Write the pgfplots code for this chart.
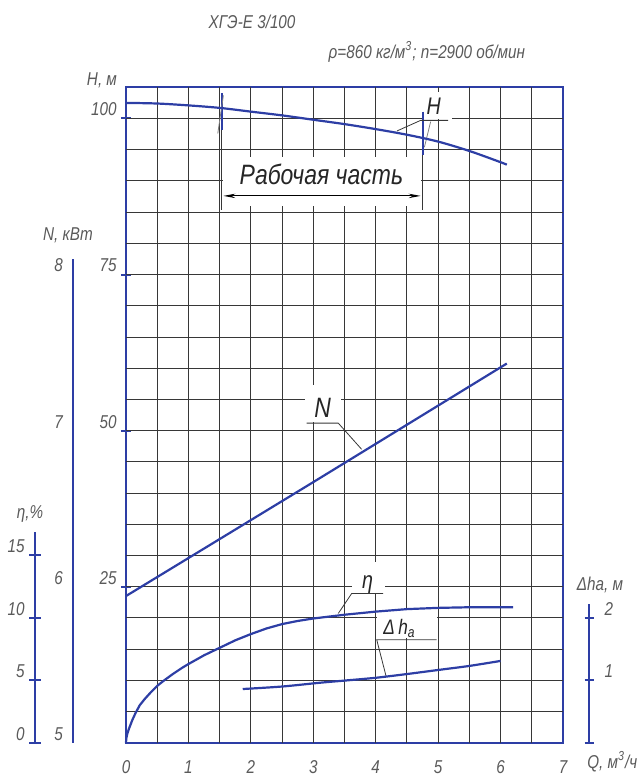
\documentclass[border=0pt]{standalone}
\usepackage{fontspec}
\usepackage{pgfplots}
\pgfplotsset{compat=1.18}
\usetikzlibrary{arrows.meta}
\newfontfamily\gost{Liberation Sans}[FakeStretch=0.82]
\definecolor{myblue}{RGB}{45,62,165}
\definecolor{txt}{RGB}{90,90,90}
\definecolor{grd}{RGB}{55,55,55}
\newcommand\sm{\gost\itshape\fontsize{9.3}{10}\selectfont}
\newcommand\md{\gost\itshape\fontsize{12}{13}\selectfont}
\newcommand\mdN{\gost\itshape\fontsize{14}{15}\selectfont}
\newcommand\mdd{\gost\itshape\fontsize{10.5}{12}\selectfont}
\newcommand\bg{\gost\itshape\fontsize{14}{15}\selectfont}
\tikzset{
  scl/.style={draw=myblue, line width=1pt},
  ldr/.style={draw=grd, line width=0.4pt},
  grl/.style={draw=grd, line width=0.45pt},
}
\pgfplotsset{
  base/.style={at={(0,0)}, anchor=south west, scale only axis, width=218.5pt, height=327.7pt, xmin=0, xmax=7, clip=false},
  ov/.style={base, hide axis},
  curve/.style={draw=myblue, line width=1.1pt, no markers},
}
\begin{document}
\begin{tikzpicture}
\begin{axis}[base, ymin=0, ymax=105,
  /pgf/number format/assume math mode=true,
  axis line style={draw=myblue, line width=1pt},
  xtick={0,...,7}, ytick={25,50,75,100},
  ytick pos=left,
  tick align=center, major tick length=5pt,
  xtick style={draw=none},
  ytick style={draw=myblue, line width=1pt},
  tick label style={font=\sm, text=txt},
  xticklabel style={anchor=center, yshift=-9.5pt},
  yticklabel style={anchor=south east, inner sep=1pt, xshift=-1pt},
]
% grid
\pgfplotsinvokeforeach{0.5,1,...,6.5}{\draw[grl] (axis cs:#1,0) -- (axis cs:#1,105);}
\pgfplotsinvokeforeach{5,10,...,100}{\draw[grl] (axis cs:0,#1) -- (axis cs:7,#1);}
% white boxes under labels
\fill[white] (axis cs:1.56,86.0) rectangle (axis cs:4.72,93.9);
\fill[white] (axis cs:2.87,51.4) rectangle (axis cs:3.45,57.3);
\fill[white] (axis cs:4.76,99.9) rectangle (axis cs:5.22,104.2);
\fill[white] (axis cs:3.62,23.9) rectangle (axis cs:4.15,29.0);
\fill[white] (axis cs:4.02,16.7) rectangle (axis cs:4.98,21.2);
% working range
\draw[myblue, line width=1pt] (axis cs:1.53,104.1) -- (axis cs:1.53,98.2);
\draw[grd, line width=0.6pt] (axis cs:1.53,98.2) -- (axis cs:1.53,85.4);
\draw[myblue, line width=1pt] (axis cs:4.75,101.1) -- (axis cs:4.75,94.2);
\draw[grd, line width=0.6pt] (axis cs:4.75,94.2) -- (axis cs:4.75,85.4);
\draw[gray, line width=0.4pt] (axis cs:1.47,97.6) -- (axis cs:1.56,103.7);
\draw[gray, line width=0.4pt] (axis cs:4.78,95.4) -- (axis cs:4.88,99.5);
\draw[black, line width=0.5pt, {Stealth[length=6pt,width=2.2pt]}-{Stealth[length=6pt,width=2.2pt]}] (axis cs:1.56,87.6) -- (axis cs:4.72,87.6);
\node[text=black!85] at (axis cs:3.13,91.0) {\bg Рабочая часть};
% curve labels
\draw[ldr] (axis cs:4.34,98.0) -- (axis cs:4.72,99.7) -- (axis cs:5.16,99.7);
\node[text=black!85] at (axis cs:4.93,101.9) {\md H};
\draw[ldr] (axis cs:2.894,51.2) -- (axis cs:3.40,51.2) -- (axis cs:3.775,47.0);
\node[text=black!85] at (axis cs:3.15,53.6) {\mdN N};
\draw[ldr] (axis cs:3.40,20.7) -- (axis cs:3.615,23.9) -- (axis cs:4.12,23.9);
\node[text=black!85] at (axis cs:3.87,25.4) {\md η};
\draw[ldr] (axis cs:4.165,10.7) -- (axis cs:4.016,16.5) -- (axis cs:4.977,16.5);
\node[text=black!85] at (axis cs:4.38,18.3) {\mdd Δ\,h\textsubscript{а}};
% H curve
\addplot[curve, smooth] coordinates {(0,102.5) (0.5,102.4) (1,102.1) (1.5,101.7) (2,101.1) (2.5,100.5) (3,99.8) (3.5,99.1) (4,98.3) (4.5,97.4) (5,96.3) (5.5,94.8) (6,93.0) (6.1,92.6)};
% texts
\node[text=txt] at (axis cs:2.02,115.5) {\sm ХГЭ-Е 3/100};
\node[text=txt] at (axis cs:4.82,110.7) {\sm ρ=860 кг/м\textsuperscript{3}; n=2900 об/мин};
\node[text=txt] at (axis cs:-0.385,106.2) {\sm Н, м};
\node[text=txt, yshift=-9.5pt] at (axis cs:7.79,0) {\sm Q, м\textsuperscript{3}/ч};
\node[text=txt] at (axis cs:-0.93,81.3) {\sm N, кВт};
\node[text=txt] at (axis cs:-1.538,36.7) {\sm η,\%};
\node[text=txt] at (axis cs:7.593,25.2) {\sm Δhа, м};
\end{axis}
% N, kW
\begin{axis}[ov, ymin=5, ymax=9.2]
\addplot[curve] coordinates {(0,5.94) (3,6.67) (6.1,7.43)};
\draw[scl] (axis cs:-0.854,5) -- (axis cs:-0.854,8.10);
\pgfplotsinvokeforeach{5,6,7,8}{
  \draw[scl] (axis cs:-0.854,#1) ++(-3.3pt,0) -- ++(6.6pt,0);
  \node[anchor=south east, inner sep=1pt, text=txt, xshift=-3.7pt] at (axis cs:-0.854,#1) {\sm #1};
}
\end{axis}
% efficiency
\begin{axis}[ov, ymin=0, ymax=52.5]
\addplot[curve] coordinates {(0,0) (0.005,0.35) (0.02,0.7) (0.05,1.15) (0.1,1.8) (0.15,2.35) (0.22,3.0) (0.3,3.5) (0.4,4.05) (0.5,4.55) (0.6,4.95) (0.75,5.5) (0.9,6.0) (1.0,6.3) (1.25,7.0) (1.5,7.6) (1.75,8.2) (2,8.7) (2.25,9.15) (2.5,9.5) (2.75,9.75) (3,9.95) (3.25,10.1) (3.5,10.25) (4,10.5) (4.5,10.7) (5,10.8) (5.5,10.85) (6.2,10.85)};
\draw[scl] (axis cs:-1.458,0) -- (axis cs:-1.458,16.9);
\pgfplotsinvokeforeach{0,5,10,15}{
  \draw[scl] (axis cs:-1.458,#1) ++(-2.9pt,0) -- ++(5.8pt,0);
  \node[anchor=south east, inner sep=1pt, text=txt, xshift=-4pt] at (axis cs:-1.458,#1) {\sm #1};
}
\end{axis}
% NPSH
\begin{axis}[ov, ymin=0, ymax=10.5]
\addplot[curve, smooth] coordinates {(1.87,0.86) (2.5,0.90) (3.1,0.96) (3.5,0.995) (4,1.04) (4.5,1.10) (5,1.165) (5.5,1.23) (6,1.31)};
\draw[scl] (axis cs:7.422,0) -- (axis cs:7.422,2.23);
\pgfplotsinvokeforeach{0,1,2}{
  \draw[scl] (axis cs:7.422,#1) ++(-2.4pt,0) -- ++(4.8pt,0);
}
\pgfplotsinvokeforeach{1,2}{
  \node[anchor=south west, inner sep=1pt, text=txt, xshift=6.5pt] at (axis cs:7.422,#1) {\sm #1};
}
\end{axis}
\pgfresetboundingbox
\path[use as bounding box] (-63pt,-16.15pt) rectangle (257.5pt,371.35pt);
\end{tikzpicture}
\end{document}
